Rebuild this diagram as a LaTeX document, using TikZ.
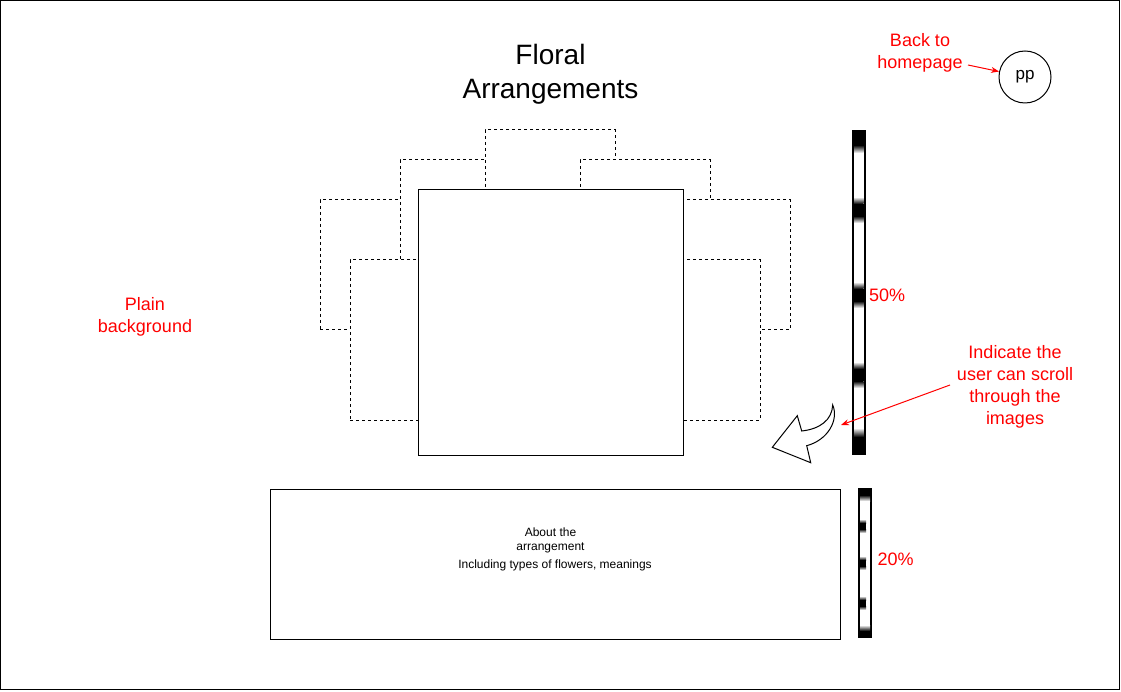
\documentclass[tikz,border=0pt]{standalone}
\usepackage{fontspec}
\setmainfont{Liberation Sans}
\usetikzlibrary{positioning,arrows.meta}

\tikzset{
  photo/.style={draw, dashed, fill=white, inner sep=0pt, minimum width=130pt, minimum height=#1},
  mainphoto/.style={draw, fill=white, inner sep=0pt, minimum width=265pt, minimum height=265pt},
  infobox/.style={draw, inner sep=0pt, minimum width=570pt, minimum height=150pt},
  scrollbar/.style={draw, line width=2pt, fill=white, inner sep=0pt, minimum width=#1},
  note/.style={text=red, align=center, inner sep=1pt, font=\fontsize{18}{22}\selectfont},
  pointer/.style={red, -{Stealth[length=8pt,width=6pt]}},
  fadein/.style={top color=white, bottom color=black},
  fadeout/.style={top color=black, bottom color=white},
}

\begin{document}
\begin{tikzpicture}[x=1pt, y=-1pt, line width=1pt]
      \useasboundingbox (0,0) rectangle (1121,692);
      \draw (0.5,0.5) rectangle (1119.5,689.5);

      \node[align=center, font=\fontsize{28}{34}\selectfont] (title) at (550.5,74) {Floral\\Arrangements};

      % images behind the current one
      \node[photo=130pt] (farleft) at (385,265) {};
      \node[photo=130pt] (midleft) at (465,225) {};
      \node[photo=130pt] (back) at (550,195) {};
      \node[photo=130pt] (midright) at (645,225) {};
      \node[photo=130pt] (farright) at (725,265) {};
      \node[photo=160pt] (nearleft) at (415,340) {};
      \node[photo=160pt] (nearright) at (695,340) {};
      \node[mainphoto] (current) at (550.5,322.5) {};

      \node[infobox] (about) at (555,564) {};
      \node[align=center, font=\fontsize{12}{14}\selectfont] (abouttext) at (550.5,540) {About the\\arrangement};
      \node[font=\fontsize{12}{14}\selectfont] (typestext) at (555,565.5) {Including types of flowers, meanings};

      % scroll bars
      \node[scrollbar=11.5pt, minimum height=323pt] (bar50) at (858.75,292.5) {};
      \fill (854,131) rectangle (863.5,145);
      \shade[fadeout] (854,145) rectangle (863.5,153);
      \shade[fadein] (854,197) rectangle (863.5,204);
      \fill (854,204) rectangle (863.5,216);
      \shade[fadeout] (854,216) rectangle (863.5,223);
      \shade[fadein] (854,282) rectangle (863.5,289);
      \fill (854,289) rectangle (863.5,301);
      \shade[fadeout] (854,301) rectangle (863.5,308);
      \shade[fadein] (854,362) rectangle (863.5,369);
      \fill (854,369) rectangle (863.5,381);
      \shade[fadeout] (854,381) rectangle (863.5,388);
      \shade[fadein] (854,428) rectangle (863.5,437);
      \fill (854,437) rectangle (863.5,454);
      \node[note, right=2pt of bar50, yshift=-3pt] (pct50) {50\%};

      \node[scrollbar=12pt, minimum height=148pt] (bar20) at (865,563) {};
      \fill (860,489) rectangle (870,495);
      \shade[fadeout] (860,495) rectangle (870,501);
      \shade[fadein] (860,519) rectangle (866,523);
      \fill (860,523) rectangle (866,529);
      \shade[fadeout] (860,529) rectangle (866,533);
      \shade[fadein] (860,556) rectangle (866,560);
      \fill (860,560) rectangle (866,566);
      \shade[fadeout] (860,566) rectangle (866,570);
      \shade[fadein] (860,596) rectangle (866,600);
      \fill (860,600) rectangle (866,606);
      \shade[fadeout] (860,606) rectangle (866,610);
      \shade[fadein] (860,625) rectangle (870,631);
      \fill (860,631) rectangle (870,637);
      \node[note, right=4pt of bar20, yshift=4pt] (pct20) {20\%};

      % curved arrow
      \draw[fill=white, line join=miter] (772.3,447.3) -- (797.3,415.7) -- (801.7,431)
        .. controls (820,429) and (832,420) .. (832.7,405)
        .. controls (839,420) and (828,440) .. (806.7,445.7)
        -- (810.7,462.7) -- cycle;

      \node[draw, circle, minimum size=52pt, inner sep=0pt, font=\fontsize{17}{20}\selectfont] (pp) at (1025,77) {pp};

      \node[note] (backnote) at (920,53) {Back to\\homepage};
      \node[note] (plainnote) at (145,317) {Plain\\background};
      \node[note] (scrollnote) at (1015,387) {Indicate the\\user can scroll\\through the\\images};

      \coordinate (backfrom) at (968,65);
      \coordinate (scrollfrom) at (950,385);
      \coordinate (scrollto) at (841,425);
      \draw[pointer] (backfrom) -- (pp);
      \draw[pointer] (scrollfrom) -- (scrollto);
\end{tikzpicture}
\end{document}
